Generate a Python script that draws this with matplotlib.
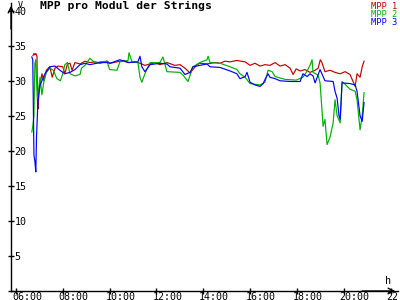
import matplotlib
matplotlib.use("Agg")
import matplotlib.pyplot as plt
import matplotlib.transforms as mtransforms
from matplotlib.ticker import FuncFormatter, MultipleLocator

# time of day in decimal hours, value in V
t_mpp1 = [6.73, 6.77, 6.81, 6.85, 6.90, 6.92, 6.95, 6.98, 7.03, 7.11, 7.20, 7.30, 7.45, 7.55, 7.67, 7.80,
          8.00, 8.09, 8.20, 8.31, 8.40, 8.52, 8.74, 8.95, 9.16, 9.40, 9.59, 9.89, 10.02, 10.32, 10.60, 10.83,
          11.10, 11.30, 11.51, 11.73, 11.94, 12.15, 12.45, 12.79, 13.01, 13.22, 13.44, 13.56, 13.74, 13.86,
          14.16, 14.50, 14.72, 14.93, 15.15, 15.44, 15.79, 16.00, 16.21, 16.43, 16.64, 16.85, 17.07, 17.28,
          17.50, 17.71, 17.84, 17.97, 18.14, 18.35, 18.56, 18.78, 18.91, 19.00, 19.07, 19.20, 19.42, 19.63,
          19.85, 20.06, 20.27, 20.49, 20.57, 20.70, 20.79, 20.87]
v_mpp1 = [33.6, 33.9, 33.7, 33.9, 33.5, 27.0, 26.0, 28.5, 29.5, 31.0, 30.0, 31.5, 32.0, 30.5, 31.8, 32.1,
          32.0, 31.0, 32.4, 32.5, 31.5, 32.6, 32.4, 32.8, 32.6, 32.7, 32.5, 32.8, 32.5, 32.7, 32.9, 32.6,
          32.7, 32.5, 32.2, 32.4, 32.6, 32.3, 32.6, 32.2, 32.3, 31.8, 31.1, 31.6, 32.3, 32.5,
          32.4, 32.6, 32.5, 32.8, 32.7, 32.9, 32.7, 32.2, 32.5, 32.1, 32.3, 32.2, 32.6, 32.1,
          32.3, 31.8, 30.9, 31.7, 31.4, 31.6, 31.2, 31.5, 31.8, 33.0, 32.6, 31.3, 31.5, 31.2,
          31.0, 31.3, 30.9, 29.2, 31.0, 30.5, 32.0, 32.8]

t_mpp2 = [6.68, 6.72, 6.77, 6.81, 6.85, 6.88, 6.92, 6.97, 7.03, 7.11, 7.20, 7.30, 7.45, 7.60, 7.75, 7.90,
          8.00, 8.09, 8.20, 8.31, 8.52, 8.74, 8.80, 8.95, 9.16, 9.40, 9.59, 9.89, 10.00, 10.32, 10.44, 10.79,
          10.83, 10.96, 11.21, 11.30, 11.38, 11.51, 11.73, 12.15, 12.28, 12.45, 13.01, 13.14, 13.35, 13.56,
          13.86, 14.16, 14.21, 14.29, 14.72, 15.15, 15.44, 15.57, 15.79, 16.00, 16.43, 16.64, 16.77, 16.94,
          17.07, 17.28, 17.50, 17.97, 18.26, 18.44, 18.56, 18.65, 18.69, 18.91, 18.99, 19.07, 19.12, 19.20,
          19.29, 19.42, 19.55, 19.63, 19.72, 19.85, 19.93, 20.06, 20.27, 20.49, 20.57, 20.70, 20.79, 20.87]
v_mpp2 = [22.7, 23.5, 25.0, 32.5, 33.0, 30.0, 27.5, 28.8, 30.5, 28.0, 30.0, 31.2, 31.8, 31.5, 30.3, 30.0,
          31.0, 32.3, 32.6, 31.0, 30.7, 30.9, 31.8, 32.2, 33.2, 32.5, 32.7, 32.8, 31.6, 31.5, 32.7, 32.9,
          34.0, 32.7, 32.6, 30.5, 29.8, 31.0, 32.6, 32.6, 33.4, 31.3, 31.2, 30.8, 29.9, 32.0,
          32.6, 33.0, 33.5, 32.6, 32.5, 32.0, 31.6, 31.0, 30.5, 29.6, 29.4, 29.8, 31.5, 31.3,
          30.6, 30.4, 30.2, 30.1, 30.5, 31.4, 32.2, 33.0, 31.2, 30.8, 29.7, 26.0, 23.5, 24.5,
          20.9, 22.0, 24.0, 27.3, 25.0, 24.0, 29.9, 29.5, 28.8, 28.5, 27.3, 23.0, 25.0, 28.3]

t_mpp3 = [6.68, 6.72, 6.77, 6.81, 6.85, 6.88, 6.94, 7.03, 7.11, 7.24, 7.45, 7.67, 7.88, 8.09, 8.31, 8.52,
          8.74, 8.95, 9.16, 9.59, 9.89, 10.02, 10.44, 10.79, 11.21, 11.30, 11.38, 11.51, 11.73, 12.15, 12.45,
          12.58, 13.01, 13.22, 13.44, 13.56, 13.86, 14.16, 14.29, 14.72, 15.15, 15.44, 15.57, 15.79, 15.87,
          16.00, 16.21, 16.43, 16.56, 16.64, 16.77, 16.85, 17.07, 17.28, 17.71, 18.14, 18.26, 18.44, 18.56,
          18.69, 18.78, 18.99, 19.20, 19.55, 19.63, 19.72, 19.80, 19.85, 19.93, 20.27, 20.49, 20.57, 20.70,
          20.79, 20.87]
v_mpp3 = [33.4, 33.0, 19.4, 18.5, 17.0, 22.0, 27.0, 29.4, 30.0, 31.0, 32.0, 32.1, 31.5, 31.0, 31.2, 31.6,
          32.3, 32.5, 32.3, 32.6, 32.6, 32.5, 33.0, 32.6, 32.7, 33.5, 32.0, 31.3, 32.3, 32.5, 32.4,
          32.0, 31.8, 30.9, 31.2, 32.0, 32.2, 32.4, 32.0, 31.9, 31.4, 31.0, 30.3, 30.6, 31.2,
          29.8, 29.4, 29.2, 29.6, 30.2, 31.0, 30.5, 30.3, 30.0, 29.9, 29.9, 31.0, 30.6, 31.0,
          30.7, 29.7, 31.6, 30.0, 29.9, 28.5, 27.5, 25.0, 24.5, 29.7, 29.6, 29.4, 28.5, 25.0,
          24.2, 26.9]

names = ["MPP 1", "MPP 2", "MPP 3"]
colors = ["#c00000", "#00b000", "#0000ff"]

mono = "DejaVu Sans Mono"

fig = plt.figure(figsize=(4, 3), dpi=100)
ax = fig.add_axes([0.0275, 0.03, 0.9675, 0.96])

for t, v, c in zip([t_mpp1, t_mpp2, t_mpp3], [v_mpp1, v_mpp2, v_mpp3], colors):
    ax.plot(t, v, color=c, lw=0.85)

ax.set_xlim(5.79, 22.32)
ax.set_ylim(0, 41.1)

for s in ["top", "right"]:
    ax.spines[s].set_visible(False)
for s in ["left", "bottom"]:
    ax.spines[s].set_linewidth(1.0)

ax.set_xticks(range(6, 24, 2))
ax.xaxis.set_major_formatter(FuncFormatter(lambda x, p: "%02d:00" % int(round(x))))
ax.yaxis.set_major_locator(MultipleLocator(5))
ax.yaxis.set_major_formatter(FuncFormatter(lambda y, p: "" if y == 0 else "%d" % y))

ax.tick_params(axis="both", direction="inout", length=5, width=1.0, labelsize=7.2, pad=0)
for lbl in ax.get_xticklabels():
    lbl.set_fontfamily(mono)
    lbl.set_ha("left")
    lbl.set_transform(lbl.get_transform() + mtransforms.ScaledTranslation(-4 / 100, 2 / 100, fig.dpi_scale_trans))
for lbl in ax.get_yticklabels():
    lbl.set_fontfamily(mono)
    lbl.set_ha("left")
    lbl.set_transform(lbl.get_transform() + mtransforms.ScaledTranslation(7 / 100, 0, fig.dpi_scale_trans))

# axis arrows
ax.annotate("", xy=(0, 1.0), xytext=(0, 0.9), xycoords="axes fraction",
            arrowprops=dict(arrowstyle="->", lw=1.0, color="black"))
ax.annotate("", xy=(1.0, 0), xytext=(0.9, 0), xycoords="axes fraction",
            arrowprops=dict(arrowstyle="->", lw=1.0, color="black"))
fig.text(18 / 400, 1 - 1 / 300, "V", fontsize=6, family=mono, va="top", ha="left")
fig.text(385 / 400, 1 - 276 / 300, "h", fontsize=7.2, family=mono, va="top", ha="left")

fig.text(40 / 400, 1 - 1 / 300, "MPP pro Modul der Strings", fontsize=8.2, family=mono,
         fontweight="bold", va="top", ha="left")
for i, (n, c) in enumerate(zip(names, colors)):
    fig.text(397 / 400, 1 - (2 + 8 * i) / 300, n, fontsize=6.3, family=mono, color=c,
             va="top", ha="right")

fig.savefig("out.png", dpi=100)
